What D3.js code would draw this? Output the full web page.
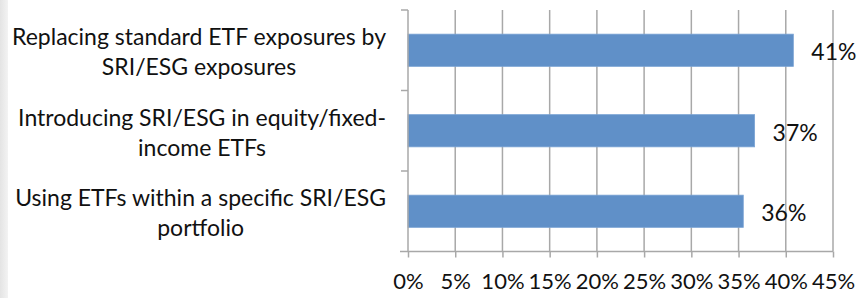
<!DOCTYPE html>
<html>
<head>
<meta charset="utf-8">
<script src="https://cdn.jsdelivr.net/npm/d3@7"></script>
<style>
  html, body { margin: 0; padding: 0; background: #fff; }
  svg { display: block; }
  text { font-family: Lato, "Open Sans", sans-serif; fill: #111; }
</style>
</head>
<body>
<div id="chart"></div>
<script>
// data
const categories = [
  "Replacing standard ETF exposures by SRI/ESG exposures",
  "Introducing SRI/ESG in equity/fixed-income ETFs",
  "Using ETFs within a specific SRI/ESG portfolio"
];
const categoryLines = [
  ["Replacing standard ETF exposures by", "SRI/ESG exposures"],
  ["Introducing SRI/ESG in equity/fixed-", "income ETFs"],
  ["Using ETFs within a specific SRI/ESG", "portfolio"]
];
const values = [40.8, 36.7, 35.5];
const valueLabels = ["41%", "37%", "36%"];
const tickValues = [0, 5, 10, 15, 20, 25, 30, 35, 40, 45];

const W = 863, H = 298;
const margin = {left: 408, right: 30, top: 10, bottom: 46};
const fontSize = '23px';

let svg = d3.select('#chart')
            .append('svg')
            .attr('width', W)
            .attr('height', H);

// light gray strip on the left edge
let grad = svg.append('defs').append('linearGradient')
              .attr('id', 'edge').attr('x1', 0).attr('x2', 1);
grad.append('stop').attr('offset', 0).attr('stop-color', '#e4e4e4');
grad.append('stop').attr('offset', 1).attr('stop-color', '#f3f3f3');
svg.append('rect').attr('x', 0).attr('y', 0).attr('width', 8).attr('height', H)
   .attr('fill', 'url(#edge)');

//scales
let x = d3.scaleLinear()
          .domain([0, 45])
          .range([margin.left, W - margin.right]);
let y = d3.scaleBand()
          .domain(categories)
          .range([margin.top, H - margin.bottom + 0.5 - 1])
          .paddingInner(0.6)
          .paddingOuter(0.3);

const yBottom = y.range()[1];
const gridColor = '#a8a8a8';

// vertical gridlines
svg.append('g')
   .selectAll('line')
   .data(tickValues.slice(1))
   .enter()
   .append('line')
   .attr('x1', d => x(d)).attr('x2', d => x(d))
   .attr('y1', margin.top).attr('y2', yBottom)
   .attr('stroke', gridColor)
   .attr('stroke-width', 1.5);

// bars
svg.selectAll('rect.bar')
   .data(categories)
   .enter()
   .append('rect')
   .attr('class', 'bar')
   .attr('x', x(0))
   .attr('y', d => y(d))
   .attr('width', (d, i) => x(values[i]) - x(0))
   .attr('height', y.bandwidth())
   .attr('fill', '#6090c8')
   .attr('stroke', '#7aa3d4')
   .attr('stroke-width', 0.8);

// x axis
let xAxis = d3.axisBottom(x)
              .tickValues(tickValues)
              .tickSize(6)
              .tickPadding(16)
              .tickFormat(d => d + '%');
let gx = svg.append('g')
            .attr('transform', 'translate(0,' + yBottom + ')')
            .call(xAxis);
gx.select('.domain').remove();
gx.append('line')
  .attr('x1', x(0) - 8).attr('x2', x(45))
  .attr('stroke', gridColor).attr('stroke-width', 1.5);
gx.selectAll('.tick line').attr('stroke', gridColor).attr('stroke-width', 1.5);
gx.selectAll('.tick text')
  .style('font-size', '22px')
  .style('font-family', 'Lato, sans-serif')
  .attr('fill', '#111');

// y axis line and outer ticks
let yTicks = [margin.top].concat(categories.map(c => y(c) - y.step() * y.paddingInner() / 2 + y.step()));
let gy = svg.append('g');
gy.append('line')
  .attr('x1', x(0)).attr('x2', x(0))
  .attr('y1', margin.top).attr('y2', yBottom)
  .attr('stroke', gridColor).attr('stroke-width', 1.5);
gy.selectAll('line.tk')
  .data(yTicks.slice(0, 3))
  .enter()
  .append('line')
  .attr('class', 'tk')
  .attr('x1', x(0) - 7).attr('x2', x(0))
  .attr('y1', d => d).attr('y2', d => d)
  .attr('stroke', gridColor).attr('stroke-width', 1.5);

// value labels
svg.selectAll('text.val')
   .data(categories)
   .enter()
   .append('text')
   .attr('class', 'val')
   .attr('x', (d, i) => x(values[i]) + 18)
   .attr('y', d => y(d) + y.bandwidth() / 2 + 10)
   .style('font-size', fontSize)
   .text((d, i) => valueLabels[i]);

// category labels: lines centred in a block right aligned to the axis
const lineH = 30;
categories.forEach((c, i) => {
  let g = svg.append('g');
  let cy = y(c) + y.bandwidth() / 2;
  let lines = categoryLines[i];
  let t = g.selectAll('text')
           .data(lines)
           .enter()
           .append('text')
           .attr('text-anchor', 'middle')
           .attr('y', (d, j) => cy + 10 + (j - (lines.length - 1) / 2) * lineH)
           .style('font-size', fontSize)
           .text(d => d);
  let maxW = d3.max(t.nodes(), n => n.getComputedTextLength());
  t.attr('x', x(0) - 22 - maxW / 2);
});
</script>
</body>
</html>
